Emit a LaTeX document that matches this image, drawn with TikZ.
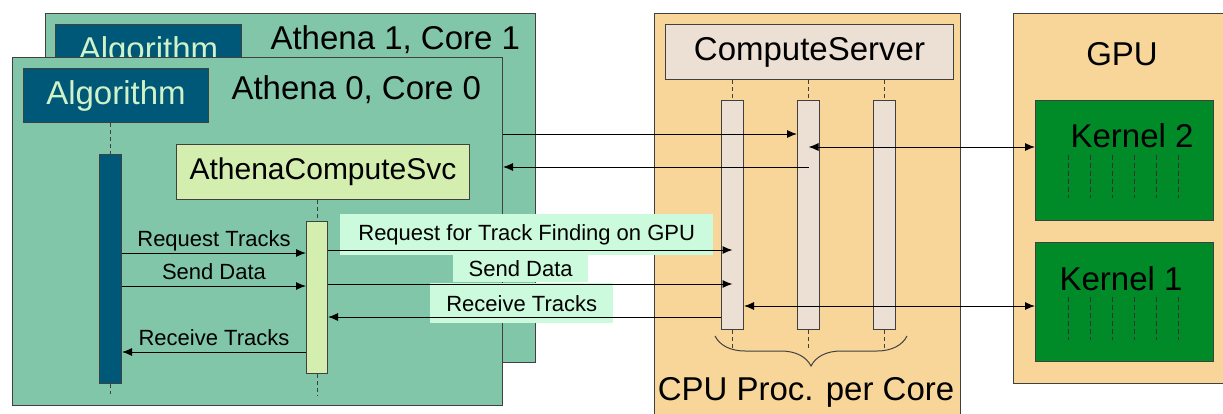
\documentclass[tikz,border=0pt]{standalone}
\usepackage{fontspec}
\setmainfont{Liberation Sans}
\usetikzlibrary{arrows.meta,decorations.pathreplacing}
\definecolor{athena}{RGB}{130,198,170}
\definecolor{algblue}{RGB}{0,88,120}
\definecolor{algtext}{RGB}{208,242,200}
\definecolor{svc}{RGB}{212,238,176}
\definecolor{mint}{RGB}{204,250,220}
\definecolor{cpuorange}{RGB}{248,214,154}
\definecolor{beige}{RGB}{236,224,212}
\definecolor{kgreen}{RGB}{0,138,40}

\begin{document}
\begin{tikzpicture}[x=1pt,y=-1pt,
  box/.style={draw=black!75,line width=1pt,anchor=north west,inner sep=0pt},
  big/.style={font=\fontsize{33}{38}\selectfont},
  lbl/.style={font=\fontsize{22}{26}\selectfont,text depth=4pt,inner sep=2pt},
  lblbox/.style={fill=mint,anchor=north west,inner sep=0pt,font=\fontsize{22}{26}\selectfont},
  msg/.style={-{Latex[length=10pt,width=8pt]},line width=1pt},
  twoway/.style={{Latex[length=10pt,width=8pt]}-{Latex[length=10pt,width=8pt]},line width=1pt},
  life/.style={dash pattern=on 4pt off 3pt,line width=0.9pt,draw=black!75}]
\useasboundingbox (0,0) rectangle (1223,413);

% Athena 1 (behind)
\node[box,fill=athena,minimum width=490pt,minimum height=349pt] (ath1) at (45,13) {};
\node[box,fill=algblue,text=algtext,big,minimum width=186pt,minimum height=54pt] (alg1) at (55,24) {Algorithm};
\node[big,anchor=base west] (ath1txt) at (267,49) {Athena 1, Core 1};

% Athena 0
\node[box,fill=athena,minimum width=490pt,minimum height=348pt] (ath0) at (12,57) {};
\node[box,fill=algblue,text=algtext,big,minimum width=185pt,minimum height=54pt] (alg0) at (23,68) {Algorithm};
\node[big,anchor=base west] (ath0txt) at (228,99) {Athena 0, Core 0};
\node[box,fill=svc,font=\fontsize{30}{36}\selectfont,minimum width=293pt,minimum height=55pt] (acs) at (176,144) {AthenaComputeSvc};

\node[box,fill=algblue,minimum width=22pt,minimum height=229pt] (algbar) at (99,154) {};
\node[box,fill=svc,minimum width=21pt,minimum height=152pt] (acsbar) at (306,221) {};
\draw[life] (algbar.north |- alg0.south) -- (algbar.north);
\draw[life] (algbar.south) -- ++(0,10);
\draw[life] (acsbar.north |- acs.south) -- (acsbar.north);
\draw[life] (acsbar.south) -- ++(0,22);

% ComputeServer
\node[box,fill=cpuorange,minimum width=306pt,minimum height=420pt] (cpu) at (654,13) {};
\node[box,fill=beige,big,minimum width=288pt,minimum height=55pt] (cs) at (665,24) {ComputeServer};
\foreach \i/\x in {1/721,2/797,3/873}{
  \node[box,fill=beige,minimum width=22pt,minimum height=229pt] (cs\i) at (\x,100) {};
  \draw[life] (cs\i.north |- cs.south) -- (cs\i.north);
  \draw[life] (cs\i.south) -- ++(0,18);
}
\draw[decorate,decoration={brace,amplitude=30pt},line width=1pt,draw=black!75]
  ([xshift=11pt,yshift=-6pt]cs3.south east) -- ([xshift=-6pt,yshift=-6pt]cs1.south west);
\node[big,anchor=base] (cpuproc) at (806,400) {CPU Proc. per Core};

% GPU
\node[box,fill=cpuorange,minimum width=230pt,minimum height=370pt] (gpu) at (1013,13) {};
\node[big,anchor=base] (gputxt) at (1122,65) {GPU};
\node[box,fill=kgreen,minimum width=178pt,minimum height=120pt] (k2) at (1035,100) {};
\node[box,fill=kgreen,minimum width=178pt,minimum height=119pt] (k1) at (1035,242) {};
\node[big,anchor=base] (k2txt) at (1132,147) {Kernel 2};
\node[big,anchor=base] (k1txt) at (1121,290) {Kernel 1};
\foreach \k in {k1,k2}
  \foreach \i in {0,...,5}
    \draw[dash pattern=on 5pt off 3pt,line width=1pt,draw=black!80] ([xshift=33pt+22*\i pt,yshift=-55pt]\k.north west) -- ++(0,43);

% labels on the CPU side
\node[lblbox,minimum width=373pt,minimum height=41pt] (reqgpu) at (340,214) {Request for Track Finding on GPU};
\node[lblbox,minimum width=135pt,minimum height=27pt] (senddata) at (453,255) {Send Data};
\node[lblbox,minimum width=183pt,minimum height=40pt] (recvtr) at (430,283) {Receive Tracks};

% message rows
\coordinate (rq) at (0,253);
\coordinate (sd) at (0,286);
\coordinate (rt) at (0,352);
\coordinate (gq) at (0,250);
\coordinate (gs) at (0,284);
\coordinate (gr) at (0,317);
\coordinate (u1) at (0,134);
\coordinate (u2) at (0,167);
\coordinate (u3) at (0,147);
\coordinate (u4) at (0,306);

\draw[msg] (algbar.east |- rq) -- node[lbl,above]{Request Tracks} (acsbar.west |- rq);
\draw[msg] (algbar.east |- sd) -- node[lbl,above]{Send Data} (acsbar.west |- sd);
\draw[msg] (acsbar.west |- rt) -- node[lbl,above]{Receive Tracks} (algbar.east |- rt);

\draw[msg] (acsbar.east |- gq) -- (cs1.center |- gq);
\draw[msg] (acsbar.east |- gs) -- (cs1.center |- gs);
\draw[msg] (cs1.west |- gr) -- (acsbar.east |- gr);

\draw[msg] (ath0.east |- u1) -- (cs2.west |- u1);
\draw[msg] (cs2.center |- u2) -- (ath0.east |- u2);
\draw[twoway] (cs2.center |- u3) -- (k2.west |- u3);
\draw[twoway] (cs1.east |- u4) -- (k1.west |- u4);
\end{tikzpicture}
\end{document}
